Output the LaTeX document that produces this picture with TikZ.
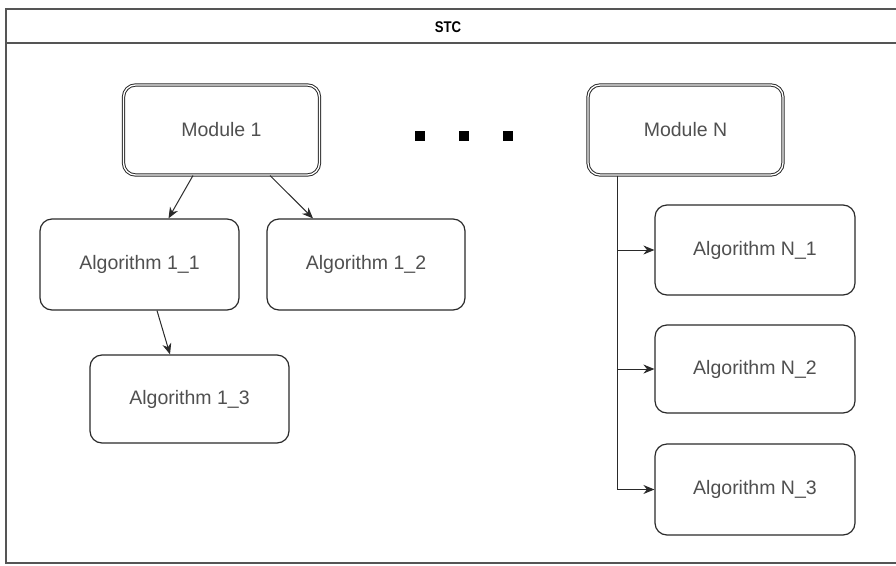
\documentclass[tikz,border=0pt]{standalone}
\usepackage{fontspec}
\setmainfont{Liberation Sans}
\usetikzlibrary{arrows.meta,calc}
\definecolor{txtgray}{HTML}{505050}
\definecolor{edge}{HTML}{2A2A2A}
\begin{document}
\begin{tikzpicture}[x=1pt,y=-1pt,
  box/.style={draw=edge,line width=1.2pt,rounded corners=12pt,fill=white,
    text=txtgray,font=\fontsize{19.5}{22}\selectfont,inner sep=0pt},
  modbox/.style={box,double=white,double distance=1.3pt,line width=1pt},
  arr/.style={draw=edge,line width=1pt,-{Stealth[length=11pt,width=9pt]}},
  dot/.style={fill=black,minimum size=10pt,inner sep=0pt}]
\useasboundingbox (0,0) rectangle (896,565);
\fill[white] (0,0) rectangle (896,565);

% outer container with title band
\draw[edge!80,line width=1.2pt] (6,9) rectangle (902,563);
\draw[edge!80,line width=1.2pt] (6,43) -- (902,43);
\node[font=\bfseries\fontsize{15.5}{18}\selectfont,text=black,xscale=0.85] (title) at (448,27) {STC};

% modules
\node[modbox,minimum width=196pt,minimum height=90pt] (m1) at (221.5,130) {Module 1};
\node[modbox,minimum width=195pt,minimum height=90pt] (mN) at (685.5,130) {Module N};

% ellipsis between the modules
\node[dot] (d1) at (420,136) {};
\node[dot] (d2) at (464,136) {};
\node[dot] (d3) at (508,136) {};

% algorithms of module 1
\node[box,minimum width=199pt,minimum height=91pt] (a11) at (139.5,264.5) {Algorithm 1\_1};
\node[box,minimum width=198pt,minimum height=91pt] (a12) at (366,264.5) {Algorithm 1\_2};
\node[box,minimum width=199pt,minimum height=88pt] (a13) at (189.5,399) {Algorithm 1\_3};

% algorithms of module N
\node[box,minimum width=200pt,minimum height=90pt] (aN1) at (755,250) {Algorithm N\_1};
\node[box,minimum width=200pt,minimum height=88pt] (aN2) at (755,369) {Algorithm N\_2};
\node[box,minimum width=200pt,minimum height=91pt] (aN3) at (755,489.5) {Algorithm N\_3};

% connectors of module 1
\draw[arr] ($(m1.south)+(-28.5,0)$) -- ($(a11.north)+(29,0)$);
\draw[arr] ($(m1.south)+(48.5,0)$) -- ($(a12.north)+(-53,0)$);
\draw[arr] ($(a11.south)+(17.5,0)$) -- ($(a13.north)+(-19.5,0)$);

% tree connectors of module N
\coordinate (trunk) at ($(mN.south)+(-68.5,0)$);
\draw[arr] (trunk) |- (aN3.west);
\draw[arr] (trunk |- aN1.west) -- (aN1.west);
\draw[arr] (trunk |- aN2.west) -- (aN2.west);
\end{tikzpicture}
\end{document}
